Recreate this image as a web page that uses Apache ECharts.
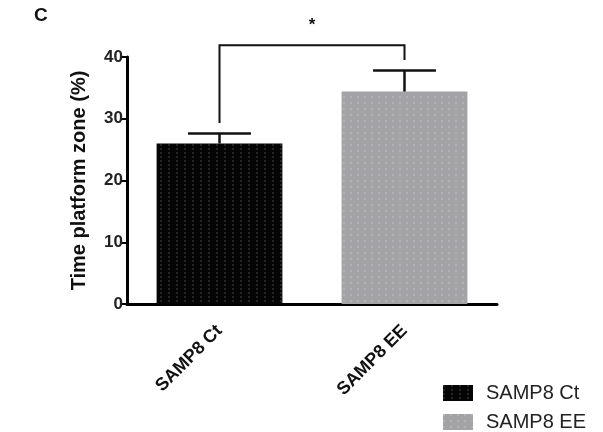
<!DOCTYPE html>
<html>
<head>
<meta charset="utf-8">
<script src="https://cdn.jsdelivr.net/npm/echarts@6/dist/echarts.min.js"></script>
<style>
  html, body { margin: 0; padding: 0; background: #fff; }
  #chart { width: 603px; height: 432px; }
</style>
</head>
<body>
<div id="chart"></div>
<script>
// data
const categories = ["SAMP8 Ct", "SAMP8 EE"];
const means = [26.0, 34.4];
const sems = [1.6, 3.4];
const yTicks = [0, 10, 20, 30, 40];
// significance bracket: left end, top, right end (y values), label
const bracketEnds = [29.3, 39.5];
const bracketTop = 41.9;
const sigLabel = "*";

const font = "Arial, 'Liberation Sans', sans-serif";
const barColors = ["#050505", "#a3a3a6"];
const dotColors = ["rgba(80,80,80,0.45)", "rgba(200,200,205,0.45)"];

const chart = echarts.init(document.getElementById("chart"));

// one legend box per group, stacked in the bottom right corner
const legendTops = [383, 412];
const legends = categories.map((c, i) => ({
  left: 443,
  top: legendTops[i],
  padding: 0,
  itemWidth: 30,
  itemHeight: 16,
  icon: "rect",
  data: [c],
  textStyle: { fontSize: 20, color: "#222", padding: [0, 0, 0, 8] }
}));

const option = {
  animation: false,
  textStyle: { fontFamily: font },
  graphic: [{
    type: "text",
    left: 34,
    top: 6,
    style: { text: "C", font: "bold 19px " + font, fill: "#111" }
  }],
  legend: legends,
  grid: { left: 127, right: 106, top: 57, bottom: 128 },
  xAxis: {
    type: "category",
    data: categories,
    axisLine: { lineStyle: { color: "#000", width: 3 } },
    axisTick: { alignWithLabel: true, length: 6, lineStyle: { color: "#000", width: 2 } },
    axisLabel: {
      rotate: 45,
      margin: 24,
      fontSize: 18,
      fontWeight: "bold",
      color: "#111"
    }
  },
  yAxis: {
    type: "value",
    min: 0,
    max: 40,
    interval: 10,
    name: "Time platform zone (%)",
    nameLocation: "middle",
    nameGap: 38,
    nameTextStyle: { fontSize: 20, fontWeight: "bold", color: "#111" },
    axisLine: { show: true, lineStyle: { color: "#000", width: 3 } },
    axisTick: { show: true, length: 6, lineStyle: { color: "#000", width: 2 } },
    axisLabel: {
      fontSize: 17,
      fontWeight: "bold",
      color: "#222",
      margin: 4,
      formatter: v => (yTicks.includes(v) ? String(v) : "")
    },
    splitLine: { show: false }
  },
  series: [
    {
      name: categories[0],
      type: "bar",
      stack: "g",
      barWidth: "68%",
      data: [means[0], "-"],
      itemStyle: {
        color: barColors[0],
        decal: { symbol: "rect", symbolSize: 1, color: dotColors[0], dashArrayX: [2, 6], dashArrayY: [2, 2] }
      }
    },
    {
      name: categories[1],
      type: "bar",
      stack: "g",
      barWidth: "68%",
      data: ["-", means[1]],
      itemStyle: {
        color: barColors[1],
        decal: { symbol: "rect", symbolSize: 1, color: dotColors[1], dashArrayX: [2, 5], dashArrayY: [2, 4] }
      }
    },
    {
      // error bars (upper half only visible)
      type: "custom",
      data: means.map((m, i) => [i, m, m + sems[i]]),
      z: 5,
      renderItem: (params, api) => {
        const x = api.value(0);
        const lo = api.coord([x, api.value(1)]);
        const hi = api.coord([x, api.value(2)]);
        const half = api.size([1, 0])[0] * 0.17;
        const st = { stroke: "#111", lineWidth: 2.5 };
        return {
          type: "group",
          children: [
            { type: "line", shape: { x1: lo[0], y1: lo[1], x2: hi[0], y2: hi[1] }, style: st },
            { type: "line", shape: { x1: hi[0] - half, y1: hi[1], x2: hi[0] + half, y2: hi[1] }, style: st }
          ]
        };
      }
    },
    {
      // significance bracket
      type: "custom",
      data: [[0, 1]],
      z: 5,
      renderItem: (params, api) => {
        const a = api.coord([api.value(0), bracketEnds[0]]);
        const b = api.coord([api.value(0), bracketTop]);
        const c = api.coord([api.value(1), bracketTop]);
        const d = api.coord([api.value(1), bracketEnds[1]]);
        return {
          type: "group",
          children: [
            {
              type: "polyline",
              shape: { points: [a, b, c, d] },
              style: { stroke: "#111", lineWidth: 2, fill: null }
            },
            {
              type: "text",
              x: (b[0] + c[0]) / 2,
              y: b[1] - 20,
              style: { text: sigLabel, font: "bold 17px " + font, fill: "#111", align: "center", verticalAlign: "middle" }
            }
          ]
        };
      }
    }
  ]
};

chart.setOption(option);
</script>
</body>
</html>
